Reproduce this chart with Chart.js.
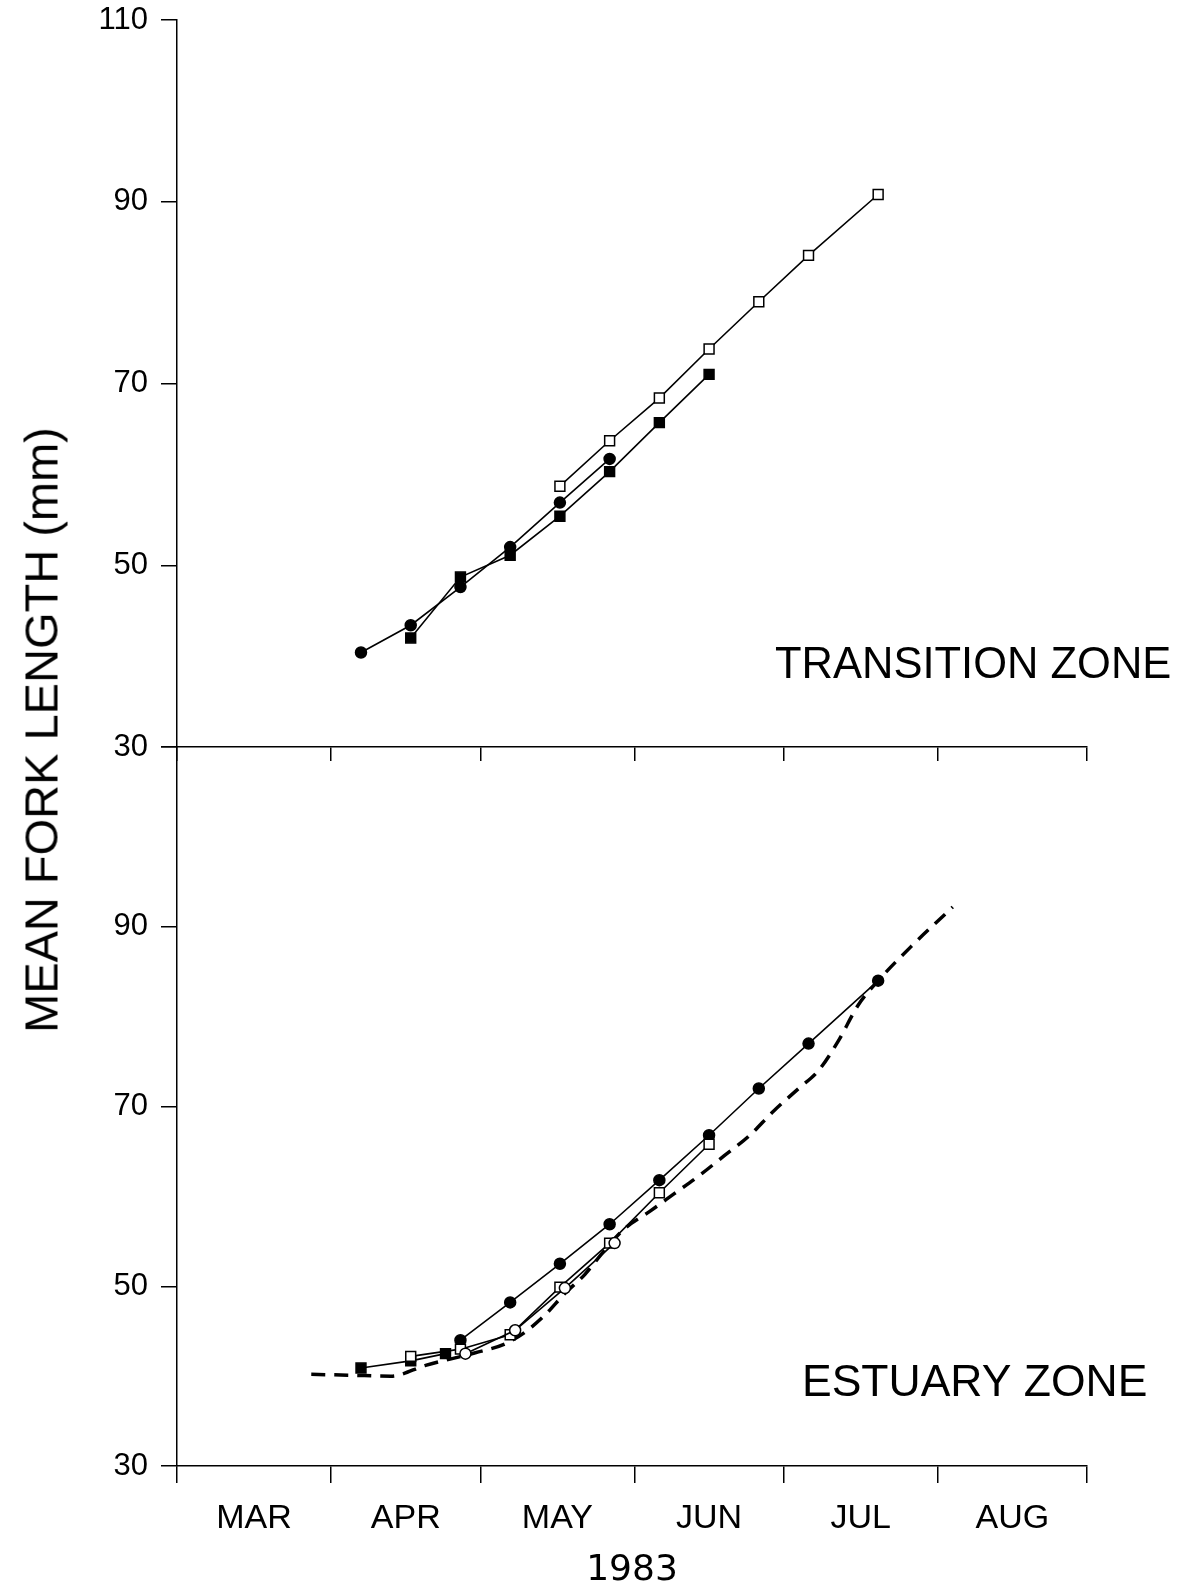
<!DOCTYPE html>
<html><head><meta charset="utf-8">
<script src="https://cdn.jsdelivr.net/npm/chart.js@4.4.1/dist/chart.umd.min.js"></script>
<style>
html,body{margin:0;padding:0;background:#fff;overflow:hidden;width:1188px;height:1582px}
#wrap{position:relative;width:1188px;height:1582px;overflow:hidden}
#c1{position:absolute;left:0;top:0}
#c2{position:absolute;left:0;top:720px}
#ytitle{position:absolute;left:41px;top:730px;transform:translate(-50%,-50%) rotate(-90deg);font:47px "Liberation Sans",Arial,sans-serif;white-space:nowrap;color:#000}
</style></head>
<body><div id="wrap">
<canvas id="c1" width="1188" height="800"></canvas>
<canvas id="c2" width="1188" height="880"></canvas>
<div id="ytitle">MEAN FORK LENGTH (mm)</div>
</div>
<script>
// ---- data (x = days since 1 March 1983, y = mean fork length in mm) ----
const monthNames = ['MAR','APR','MAY','JUN','JUL','AUG'];
const monthStartDays = [0,31,61,92,122,153,183];
const yTickValues = [30,50,70,90,110];
const xAxisTitle = '1983';
const yAxisTitle = 'MEAN FORK LENGTH (mm)';

// Transition zone
const trCircleDays = [37,47,57,67,77,87];
const trCircleLen  = [40.4,43.4,47.6,52.0,56.9,61.7];
const trFilledSqDays = [47,57,67,77,87,97,107];
const trFilledSqLen  = [42.0,48.7,51.1,55.4,60.3,65.7,71.0];
const trOpenSqDays = [77,87,97,107,117,127,141];
const trOpenSqLen  = [58.7,63.7,68.4,73.8,79.0,84.1,90.8];

// Estuary zone
const esCircleDays = [57,67,77,87,97,107,117,127,141];
const esCircleLen  = [44.0,48.2,52.5,56.9,61.8,66.8,72.0,77.0,84.0];
const esOpenSqDays = [47,57,67,77,87,97,107];
const esOpenSqLen  = [42.2,43.0,44.6,49.9,54.8,60.4,65.8];
const esOpenCircleDays = [58,68,78,88];
const esOpenCircleLen  = [42.5,45.1,49.8,54.8];
const esFilledSqDays = [37,47,54];
const esFilledSqLen  = [40.9,41.7,42.5];
const esDashDays = [27,35,43,50,60,66,70,74,78,82,86,90,95,100,105,110,115,120,125,129,133,137,141,148,156];
const esDashLen  = [40.2,40.1,40.0,41.2,42.6,43.6,44.9,46.8,49.2,51.3,54.0,56.4,58.3,60.3,62.3,64.5,66.7,69.5,72.0,74.0,77.3,81.3,84.0,88.0,92.2];

// ---- helpers ----
const FONT = '"Liberation Sans", Arial, sans-serif';
const pts = (xs, ys) => xs.map((x, i) => ({x, y: ys[i]}));
const midDays = monthStartDays.slice(0, -1).map((d, i) => (d + monthStartDays[i + 1]) / 2);
const xTickValues = [...monthStartDays, ...midDays].sort((a, b) => a - b);

function series(data, kind) {
  const filled = kind === 'fc' || kind === 'fs';
  const rect = kind === 'fs' || kind === 'os';
  return {
    data, showLine: true, borderColor: '#000', borderWidth: 1.6, tension: 0,
    pointStyle: rect ? 'rect' : 'circle',
    pointRadius: rect ? 7 : 5.5,
    pointBackgroundColor: filled ? '#000' : '#fff',
    pointBorderColor: '#000', pointBorderWidth: 1.5
  };
}

const zoneLabel = {
  id: 'zoneLabel',
  afterDraw(chart, args, o) {
    const c = chart.ctx; c.save();
    c.font = o.font; c.fillStyle = '#000'; c.textBaseline = 'alphabetic'; c.textAlign = 'left';
    c.fillText(o.text, o.x, o.y); c.restore();
  }
};

function xScale(showLabels, tickLen, axisHeight) {
  return {
    type: 'linear', min: monthStartDays[0], max: monthStartDays[monthStartDays.length - 1],
    afterBuildTicks: ax => { ax.ticks = xTickValues.map(v => ({value: v})); },
    afterFit: ax => { ax.height = axisHeight; ax.paddingLeft = 0; ax.paddingRight = 0; },
    grid: {
      drawOnChartArea: false, drawTicks: true, tickLength: tickLen, lineWidth: 1.5,
      color: c => (c.tick && monthStartDays.includes(c.tick.value)) ? '#000' : 'rgba(0,0,0,0)'
    },
    border: {display: true, color: '#000', width: 1.5},
    ticks: {
      autoSkip: false, maxRotation: 0, minRotation: 0, padding: 15, color: '#000',
      font: {family: FONT, size: 34},
      callback: v => { const i = midDays.indexOf(v); return (showLabels && i >= 0) ? monthNames[i] : ''; }
    },
    title: showLabels ? {display: true, text: xAxisTitle, color: '#000',
      font: {family: '"DejaVu Sans", ' + FONT, size: 36, lineHeight: 1.2}, padding: {top: 0, bottom: 8}} : {display: false}
  };
}

function yScale(hideTop) {
  return {
    type: 'linear', min: 30, max: 110,
    afterBuildTicks: ax => { ax.ticks = yTickValues.map(v => ({value: v})); },
    afterFit: ax => { ax.width = 177; ax.paddingTop = 0; ax.paddingBottom = 0; },
    grid: {drawOnChartArea: false, drawTicks: true, tickLength: 16, color: '#000', lineWidth: 1.5},
    border: {display: true, color: '#000', width: 1.5},
    ticks: {color: '#000', padding: 13, font: {family: FONT, size: 31},
      callback: v => (hideTop && v === 110) ? '' : String(v)}
  };
}

const common = {
  responsive: false, animation: false,
  plugins: {legend: {display: false}, tooltip: {enabled: false}}
};

new Chart(document.getElementById('c1'), {
  type: 'line',
  data: {datasets: [
    series(pts(trOpenSqDays, trOpenSqLen), 'os'),
    series(pts(trCircleDays, trCircleLen), 'fc'),
    series(pts(trFilledSqDays, trFilledSqLen), 'fs')
  ]},
  options: {...common,
    layout: {padding: {top: 20, right: 101, left: 0, bottom: 0}},
    scales: {x: xScale(false, 14, 53), y: yScale(false)},
    plugins: {...common.plugins, zoneLabel: {text: 'TRANSITION ZONE', x: 775, y: 678, font: '43.5px ' + FONT}}
  },
  plugins: [zoneLabel]
});

new Chart(document.getElementById('c2'), {
  type: 'line',
  data: {datasets: [
    series(pts(esOpenCircleDays, esOpenCircleLen), 'oc'),
    series(pts(esOpenSqDays, esOpenSqLen), 'os'),
    series(pts(esCircleDays, esCircleLen), 'fc'),
    series(pts(esFilledSqDays, esFilledSqLen), 'fs'),
    {data: pts(esDashDays, esDashLen), showLine: true, borderColor: '#000', borderWidth: 3.5,
     borderDash: [14, 9], pointRadius: 0, cubicInterpolationMode: 'monotone'}
  ]},
  options: {...common,
    layout: {padding: {top: 27, right: 101, left: 0, bottom: 0}},
    scales: {x: xScale(true, 17, 134), y: yScale(true)},
    plugins: {...common.plugins, zoneLabel: {text: 'ESTUARY ZONE', x: 802, y: 676, font: '44.5px ' + FONT}}
  },
  plugins: [zoneLabel]
});
</script>
</body></html>
